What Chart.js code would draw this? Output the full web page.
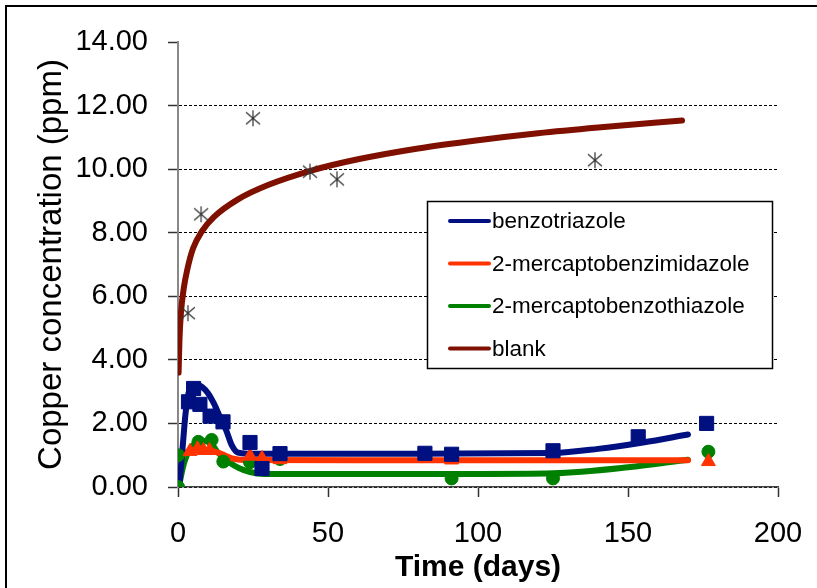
<!DOCTYPE html>
<html>
<head>
<meta charset="utf-8">
<script src="https://cdn.jsdelivr.net/npm/chart.js@4.4.0/dist/chart.umd.min.js"></script>
<style>
html, body { margin: 0; padding: 0; background: #fff; }
</style>
</head>
<body>
<canvas id="myChart" width="817" height="588"></canvas>
<script>
// measured points (days, ppm)
const blankX = [3.3, 7.7, 25, 44, 53, 139];
const blankY = [5.47, 8.58, 11.6, 9.92, 9.68, 10.28];
const bztX = [3.5, 5.2, 7.3, 10.7, 15, 24, 28, 34, 82.3, 91.2, 125, 153.4, 176.2];
const bztY = [2.68, 3.1, 2.6, 2.23, 2.05, 1.4, 0.58, 1.05, 1.06, 1.03, 1.14, 1.58, 2.0];
const mbiX = [4, 6.5, 8.5, 10.5, 24, 28, 34, 91.2, 125, 176.8];
const mbiY = [1.12, 1.2, 1.15, 1.15, 0.97, 0.9, 0.86, 0.85, 0.9, 0.8];
const mbtX = [0, 0, 6.8, 11.2, 15.1, 24, 34, 91.2, 125, 176.8];
const mbtY = [0, 1.0, 1.42, 1.48, 0.8, 0.78, 0.88, 0.27, 0.27, 1.11];

// trend curves
const bztFitX = [0.5, 1.5, 2.5, 3.5, 5, 6.5, 8, 10, 12, 14, 16, 18, 20, 23, 40, 80, 125, 140, 155, 170];
const bztFitY = [0.1, 1.2, 2.3, 2.95, 3.18, 3.22, 3.15, 2.95, 2.62, 2.2, 1.8, 1.3, 1.08, 1.05, 1.05, 1.05, 1.07, 1.2, 1.4, 1.65];
const mbiFitX = [1, 3, 6, 9, 12, 15, 18, 22, 60, 120, 170];
const mbiFitY = [0.95, 1.1, 1.15, 1.15, 1.12, 1.02, 0.9, 0.85, 0.84, 0.84, 0.84];
const mbtFitX = [0.3, 2, 4, 6, 8.5, 11, 13, 16, 19, 22, 26, 30, 60, 100, 125, 150, 170];
const mbtFitY = [0.02, 0.75, 1.2, 1.38, 1.45, 1.38, 1.12, 0.87, 0.66, 0.53, 0.43, 0.41, 0.41, 0.41, 0.43, 0.62, 0.86];
const blankFitX = [0.2, 0.5, 1, 2, 3, 5, 8, 12, 20, 30, 45, 60, 80, 100, 120, 140, 168];
const blankFitY = [3.6, 4.66, 5.5, 6.3, 6.8, 7.5, 8.05, 8.5, 9.05, 9.5, 9.97, 10.31, 10.65, 10.91, 11.13, 11.31, 11.53];

const xTicks = [0, 50, 100, 150, 200];
const yTicks = [0, 2, 4, 6, 8, 10, 12, 14];

const FONT = "'Liberation Sans', Arial, sans-serif";
const navy = '#001080', red = '#FF3300', green = '#008000', maroon = '#7F1000';

// six-armed asterisk marker, as Excel draws it
const star = document.createElement('canvas');
star.width = 18; star.height = 18;
(function () {
    const c = star.getContext('2d');
    c.strokeStyle = '#333';
    c.lineWidth = 1.2;
    c.beginPath();
    c.moveTo(9, 1); c.lineTo(9, 17);
    c.moveTo(2, 3); c.lineTo(16, 15);
    c.moveTo(16, 3); c.lineTo(2, 15);
    c.stroke();
})();

function pts(xs, ys) {
    return xs.map((x, i) => ({ x: x, y: ys[i] }));
}

function fitLine(label, xs, ys, color) {
    return {
        type: 'line', label: label, data: pts(xs, ys),
        borderColor: color, backgroundColor: color, borderWidth: 6,
        borderCapStyle: 'round', pointRadius: 0, fill: false,
        cubicInterpolationMode: 'monotone', order: 2, isFit: true
    };
}

function marks(label, xs, ys, color, style, r) {
    return {
        type: 'scatter', label: label, data: pts(xs, ys),
        pointStyle: style, pointRadius: r, pointBorderWidth: 1,
        borderColor: color, backgroundColor: color, order: 1
    };
}

// legend drawn inside the plot, like the original
const legendBox = {
    id: 'legendBox',
    afterDatasetsDraw(chart) {
        const ctx = chart.ctx;
        const items = chart.data.datasets.filter(d => d.isFit);
        ctx.save();
        ctx.fillStyle = '#fff';
        ctx.fillRect(427, 201, 345, 167);
        ctx.strokeStyle = '#000';
        ctx.lineWidth = 1.5;
        ctx.strokeRect(427.5, 201.5, 345, 167);
        ctx.font = "22.5px " + FONT;
        ctx.textBaseline = 'middle';
        items.forEach((d, i) => {
            const y = 221 + i * 42.5;
            ctx.strokeStyle = d.borderColor;
            ctx.lineWidth = 4;
            ctx.lineCap = 'round';
            ctx.beginPath();
            ctx.moveTo(450, y);
            ctx.lineTo(489, y);
            ctx.stroke();
            ctx.fillStyle = '#000';
            ctx.fillText(d.label, 492, y + 1);
        });
        ctx.restore();
    }
};

const frame = {
    id: 'frame',
    afterDraw(chart) {
        const ctx = chart.ctx;
        ctx.save();
        ctx.strokeStyle = '#000';
        ctx.lineWidth = 2;
        ctx.beginPath();
        ctx.moveTo(6, 588);
        ctx.lineTo(6, 6);
        ctx.lineTo(817, 6);
        ctx.stroke();
        ctx.restore();
    }
};

new Chart(document.getElementById('myChart'), {
    type: 'scatter',
    data: {
        datasets: [
            marks('blank data', blankX, blankY, '#333', star, 9),
            marks('benzotriazole data', bztX, bztY, navy, 'rect', 10),
            marks('2-mercaptobenzimidazole data', mbiX, mbiY, red, 'triangle', 8),
            marks('2-mercaptobenzothiazole data', mbtX, mbtY, green, 'circle', 6.5),
            fitLine('benzotriazole', bztFitX, bztFitY, navy),
            fitLine('2-mercaptobenzimidazole', mbiFitX, mbiFitY, red),
            fitLine('2-mercaptobenzothiazole', mbtFitX, mbtFitY, green),
            fitLine('blank', blankFitX, blankFitY, maroon)
        ]
    },
    options: {
        responsive: false,
        maintainAspectRatio: false,
        animation: false,
        layout: { padding: { top: 42, right: 39, left: 0, bottom: 0 } },
        plugins: { legend: { display: false }, tooltip: { enabled: false } },
        scales: {
            x: {
                type: 'linear', min: 0, max: 200,
                afterBuildTicks: s => { s.ticks = xTicks.map(v => ({ value: v })); },
                afterFit: s => { s.height = 101; s.paddingRight = 0; s.paddingLeft = 0; },
                grid: { drawOnChartArea: false, drawTicks: true, tickLength: 10, tickColor: '#333', tickWidth: 1.5 },
                border: { color: '#444', width: 1.5 },
                ticks: { color: '#000', padding: 20, font: { family: FONT, size: 29 } },
                title: {
                    display: true, text: 'Time (days)', color: '#000',
                    font: { family: FONT, size: 30, weight: 'bold' }, padding: { top: 0, bottom: 2 }
                }
            },
            y: {
                min: 0, max: 14,
                afterBuildTicks: s => { s.ticks = yTicks.map(v => ({ value: v })); },
                afterFit: s => { s.width = 178; },
                grid: {
                    color: c => (c.tick && c.tick.value === 14) ? 'rgba(0,0,0,0)' : '#000',
                    lineWidth: 1, drawTicks: true, tickLength: 10, tickColor: '#333', tickWidth: 1.5
                },
                border: { color: '#888', width: 2, dash: [3, 2] },
                ticks: {
                    color: '#000', padding: 20, font: { family: FONT, size: 29 },
                    callback: v => v.toFixed(2)
                },
                title: {
                    display: true, text: 'Copper concentration (ppm)', color: '#000',
                    font: { family: FONT, size: 33 }, padding: { top: 32, bottom: 0 }
                }
            }
        }
    },
    plugins: [legendBox, frame]
});
</script>
</body>
</html>
